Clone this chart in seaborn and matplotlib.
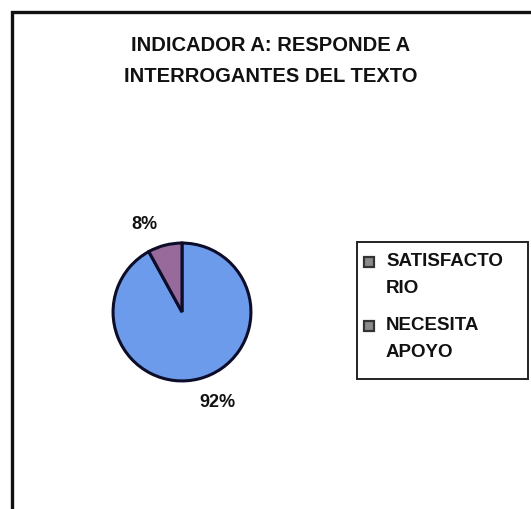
import matplotlib
matplotlib.use("Agg")
import matplotlib.pyplot as plt
import seaborn as sns
import pandas as pd
from matplotlib.patches import Rectangle

categories = ["SATISFACTORIO", "NECESITA APOYO"]
legend_labels = ["SATISFACTO\nRIO", "NECESITA\nAPOYO"]
percentages = [92, 8]
title_text = "INDICADOR A: RESPONDE A\nINTERROGANTES DEL TEXTO"

sns.set_theme(style="white")
plt.rcParams["font.family"] = ["Liberation Sans", "DejaVu Sans"]

df = pd.DataFrame({"categoria": categories, "porcentaje": percentages})
slice_colors = ["#6c9bec", "#98699b"]

W, H = 531, 510
fig = plt.figure(figsize=(W / 100, H / 100), dpi=100)
fig.patch.set_facecolor("white")

# outer chart frame (extends past right and bottom edges)
fig.add_artist(Rectangle((11.5 / W, -0.05), 1.1, (H - 13) / H + 0.05,
                         transform=fig.transFigure, fill=False,
                         edgecolor="#111111", linewidth=2.4))

fig.text(271 / W, 1 - 61 / H, title_text, ha="center", va="center",
         fontsize=14.5, fontweight="bold", linespacing=1.75, color="#111111")

# pie area
cx, cy, r = 182, 313, 71
ax = fig.add_axes([(cx - r) / W, (H - cy - r) / H, 2 * r / W, 2 * r / H])
wedges, _, autotexts = ax.pie(
    df["porcentaje"], colors=slice_colors, startangle=90, counterclock=False,
    autopct=lambda p: f"{p:.0f}%", pctdistance=1.39,
    wedgeprops=dict(edgecolor="#0d0d2a", linewidth=2.2),
    textprops=dict(fontsize=13, color="#111111", fontweight="bold"))
ax.set_xlim(-1.03, 1.03)
ax.set_ylim(-1.03, 1.03)

# label placement around the pie
label_xy = [((218 - cx) / r, (cy - 405) / r), ((143 - cx) / r, (cy - 222) / r)]
for t, (x, y) in zip(autotexts, label_xy):
    t.set_position((x, y))
    t.set_ha("center")
    t.set_va("center")

# legend box
lax = fig.add_axes([0, 0, 1, 1], facecolor="none")
lax.set_xlim(0, W)
lax.set_ylim(H, 0)
lax.axis("off")
lax.add_patch(Rectangle((357, 243), 171, 137, fill=False,
                        edgecolor="#222222", linewidth=1.4))
swatch_color = "#8a8a8a"
for i, lab in enumerate(legend_labels):
    y0 = 263 + i * 64
    lax.add_patch(Rectangle((364, y0 - 5), 10, 10, facecolor=swatch_color,
                            edgecolor="#333333", linewidth=1.6))
    lax.text(386, y0 - 10, lab, ha="left", va="top", fontsize=13.5,
             fontweight="bold", color="#111111", linespacing=1.78)

fig.savefig("out.png", dpi=100, facecolor="white")
